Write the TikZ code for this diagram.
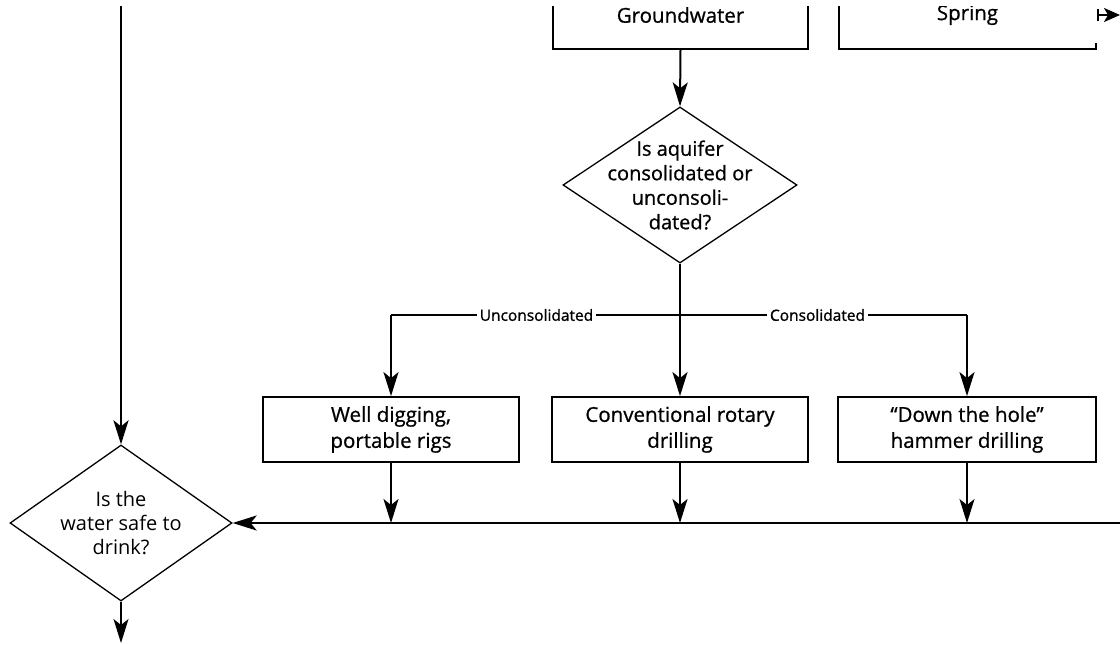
\documentclass[tikz,border=0pt]{standalone}
\usepackage{fontspec}
\setmainfont{Open Sans}
\newfontfamily\bxfont{Open Sans}[FakeBold=0.8, Ligatures=TeX]
\newfontfamily\lbfont{Open Sans}[FakeBold=1.2, Ligatures=TeX]
\usetikzlibrary{shapes.geometric,arrows.meta}
\tikzset{
  boxfont/.style={font=\bxfont\fontsize{20.5}{26}\selectfont},
  box/.style={draw, line width=1.8pt, rectangle, inner sep=0pt, align=center, boxfont},
  dec/.style={draw, line width=1.3pt, diamond, inner sep=0pt},
  dectext/.style={align=center, inner sep=0pt},
  lab/.style={fill=white, inner sep=3pt, font=\lbfont\fontsize{15.5}{17}\selectfont},
  arr/.style={line width=2pt, -{Stealth[length=24pt, width=15pt, inset=6pt]}},
  thinarr/.style={line width=1.2pt, -{Stealth[length=24pt, width=15pt, inset=6pt]}},
  thinline/.style={line width=1.3pt},
}
\begin{document}
\begin{tikzpicture}[x=1pt, y=-1pt]
\useasboundingbox (0,0) rectangle (1120,645);
\clip (0,6) rectangle (1120,645);

% top boxes (open at top)
\node[box, minimum width=255pt, minimum height=68pt] (gw) at (680.5,15) {Groundwater};
\node[rectangle, inner sep=0pt, minimum width=257pt, minimum height=68pt, boxfont] (sp) at (967.5,15) {Spring};
\draw[line width=1.8pt] (sp.north west) -- (sp.south west) -- (sp.south east) -- ([yshift=6pt]sp.south east);
\coordinate (spout) at (1120,15);
\draw[line width=2pt, -{Stealth[length=16pt, width=14pt, inset=4pt]}] ([xshift=2pt]sp.east) -- (spout);
\draw[line width=1.8pt] ([xshift=2pt, yshift=-6pt]sp.east) -- ([xshift=2pt, yshift=6pt]sp.east);

% first decision
\node[dec, minimum width=234pt, minimum height=156pt] (q1) at (680,185) {};
\node[dectext, font=\bxfont\fontsize{20}{24.5}\selectfont] (q1t) at (q1) {Is aquifer\\consolidated or\\unconsoli-\\dated?};
\draw[arr] (gw.south) -- (q1.north);

% method boxes
\node[box, minimum width=256pt, minimum height=65pt] (b1) at (391,429.5) {Well digging,\\portable rigs};
\node[box, minimum width=256pt, minimum height=65pt] (b2) at (680,429.5) {Conventional rotary\\drilling};
\node[box, minimum width=258pt, minimum height=65pt] (b3) at (967,429.5) {“Down the hole”\\hammer drilling};

% branching
\coordinate (br) at (680,315);
\draw[thinline] (b1.north |- br) -- (b3.north |- br);
\draw[arr] (b1.north |- br) -- (b1.north);
\draw[arr] (b3.north |- br) -- (b3.north);
\draw[arr] (q1.south) -- (b2.north);
\node[lab] (lu) at (536.5,315) {Unconsolidated};
\node[lab] (lc) at (817.5,315) {Consolidated};

% second decision
\node[dec, minimum width=222pt, minimum height=156pt] (q2) at (121,523) {};
\node[dectext, font=\fontsize{20}{24}\selectfont] (q2t) at (q2) {Is the\\water safe to\\drink?};
\coordinate (ltop) at (121,0);
\draw[line width=2.8pt, -{Stealth[length=24pt, width=15pt, inset=6pt]}] (ltop) -- (q2.north);
\coordinate (qout) at (121,643);
\draw[thinarr] (q2.south) -- (qout);

% collecting line
\coordinate (rin) at (1120,523);
\draw[arr] (rin) -- (q2.east);
\draw[arr] (b1.south) -- (b1.south |- rin);
\draw[arr] (b2.south) -- (b2.south |- rin);
\draw[thinarr] (b3.south) -- (b3.south |- rin);
\end{tikzpicture}
\end{document}
